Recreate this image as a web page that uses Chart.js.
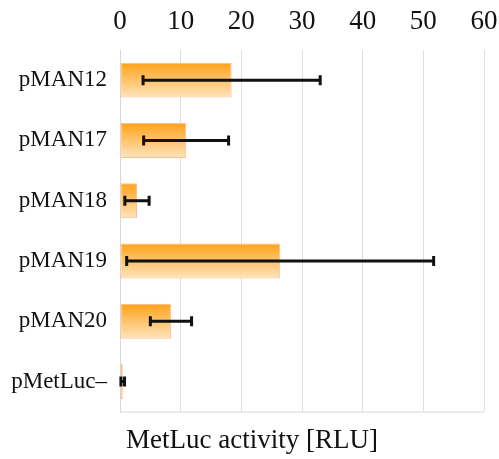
<!DOCTYPE html>
<html>
<head>
<meta charset="utf-8">
<script src="https://cdn.jsdelivr.net/npm/chart.js@4"></script>
<style>
    html, body { margin: 0; padding: 0; background: #fff; }
    #wrap { width: 499px; height: 459px; }
</style>
</head>
<body>
<div id="wrap"><canvas id="activityChart" width="499" height="459"></canvas></div>
<script>
const constructs = ["pMAN12", "pMAN17", "pMAN18", "pMAN19", "pMAN20", "pMetLuc\u2013"];
const activity = [18.4, 10.9, 2.8, 26.4, 8.4, 0.45];
const activitySd = [14.6, 7.0, 2.0, 25.3, 3.4, 0.3];
const xTicks = [0, 10, 20, 30, 40, 50, 60];

const serif = "'Liberation Serif', 'DejaVu Serif', serif";

// orange fading to pale peach, one gradient per bar
function barGradient(context) {
    const chart = context.chart;
    if (!chart.chartArea) return "#ffa41c";
    const yScale = chart.scales.y;
    const yc = yScale.getPixelForValue(context.dataIndex);
    const half = 18;
    const g = chart.ctx.createLinearGradient(0, yc - half, 0, yc + half);
    g.addColorStop(0, "#ffa216");
    g.addColorStop(1, "#ffe4c0");
    return g;
}

// black error bars with end caps
const errorBars = {
    id: "errorBars",
    afterDraw(chart) {
        const ctx = chart.ctx;
        const x = chart.scales.x;
        const y = chart.scales.y;
        ctx.save();
        ctx.strokeStyle = "#111";
        ctx.lineWidth = 3;
        activity.forEach((v, i) => {
            const yc = y.getPixelForValue(i);
            const x0 = x.getPixelForValue(v - activitySd[i]);
            const x1 = x.getPixelForValue(v + activitySd[i]);
            ctx.beginPath();
            ctx.moveTo(x0, yc);
            ctx.lineTo(x1, yc);
            ctx.moveTo(x0, yc - 5);
            ctx.lineTo(x0, yc + 5);
            ctx.moveTo(x1, yc - 5);
            ctx.lineTo(x1, yc + 5);
            ctx.stroke();
        });
        ctx.restore();
    }
};

// thin frame line along the bottom of the plot
const bottomLine = {
    id: "bottomLine",
    afterDraw(chart) {
        const a = chart.chartArea;
        const ctx = chart.ctx;
        ctx.save();
        ctx.strokeStyle = "#d8d8d8";
        ctx.lineWidth = 1;
        ctx.beginPath();
        ctx.moveTo(a.left, a.bottom + 0.5);
        ctx.lineTo(a.right, a.bottom + 0.5);
        ctx.stroke();
        ctx.restore();
    }
};

new Chart(document.getElementById("activityChart"), {
    type: "bar",
    data: {
        labels: constructs,
        datasets: [{
            data: activity,
            backgroundColor: barGradient,
            borderColor: "#ffbf90",
            borderWidth: 1,
            borderSkipped: false,
            barPercentage: 0.58,
            categoryPercentage: 1
        }]
    },
    options: {
        indexAxis: "y",
        responsive: false,
        animation: false,
        layout: { padding: { left: 5, right: 0, top: 0, bottom: 0 } },
        plugins: {
            legend: { display: false },
            tooltip: { enabled: false },
            title: {
                display: true,
                position: "bottom",
                text: "MetLuc activity [RLU]",
                color: "#111",
                font: { family: serif, size: 27, weight: "normal" },
                padding: { top: 13, bottom: 2 }
            }
        },
        scales: {
            x: {
                position: "top",
                min: 0,
                max: 60,
                z: 1,
                afterBuildTicks(scale) {
                    scale.ticks = xTicks.map(v => ({ value: v }));
                },
                afterFit(scale) {
                    scale.height = 50;
                    scale.paddingLeft = 0;
                    scale.paddingRight = 15;
                },
                ticks: {
                    color: "#111",
                    font: { family: serif, size: 27 },
                    padding: 12
                },
                grid: { color: "rgba(0,0,0,0.13)", drawTicks: false },
                border: { display: false }
            },
            y: {
                afterFit(scale) { scale.width = 115; },
                ticks: {
                    color: "#111",
                    font: { family: serif, size: 23 },
                    padding: 5
                },
                grid: { display: false },
                border: { color: "#d8d8d8" }
            }
        }
    },
    plugins: [errorBars, bottomLine]
});
</script>
</body>
</html>
